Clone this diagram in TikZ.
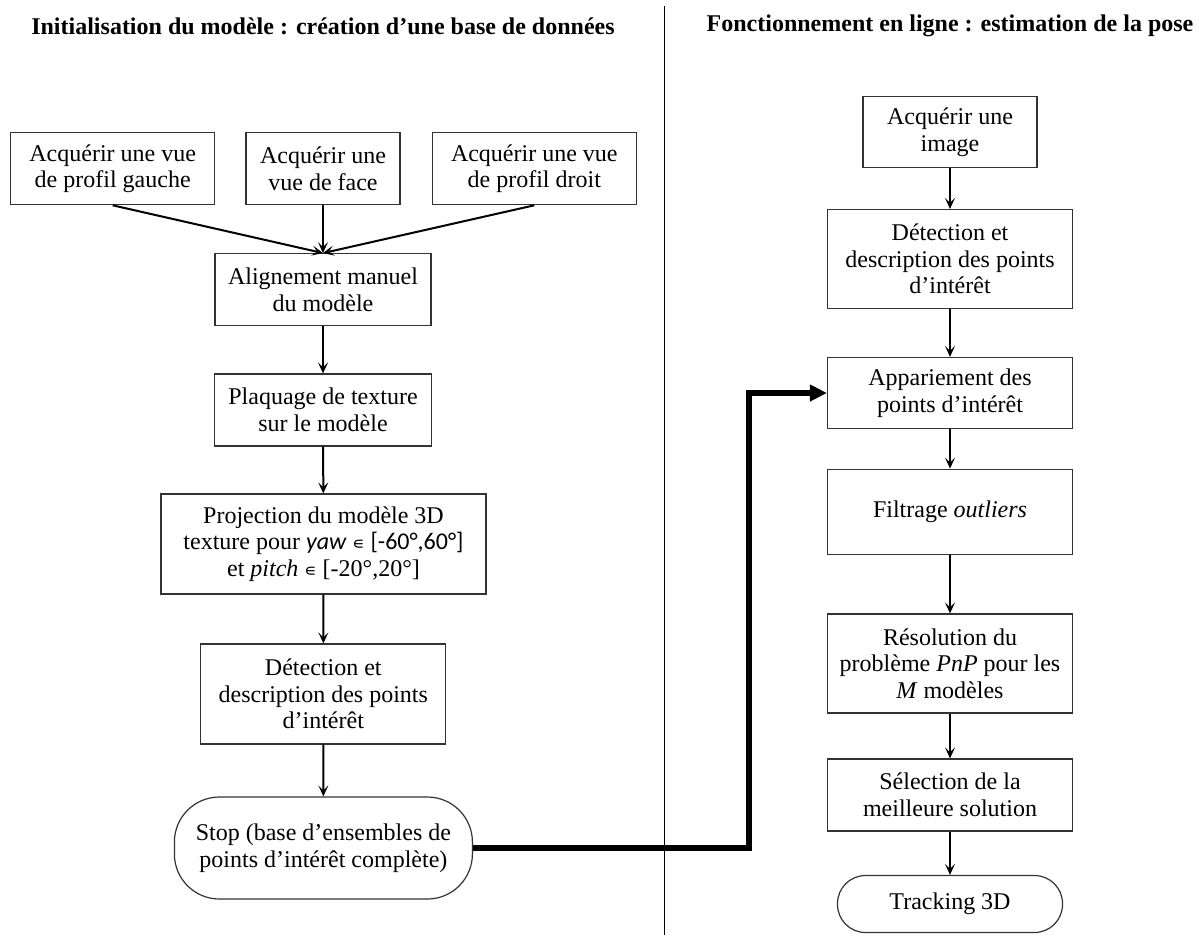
\documentclass[tikz,border=0pt]{standalone}
\usepackage{fontspec}
\setmainfont{Liberation Serif}
\newfontfamily\calib{Carlito}
\newfontfamily\dejavu{DejaVu Sans}
\usetikzlibrary{arrows.meta}
% petit signe d'appartenance
\newcommand{\elt}{{\dejavu\fontsize{17}{17}\selectfont ∊}}

\begin{document}
\begin{tikzpicture}[x=1pt,y=-1pt]

\tikzstyle{b} = [draw=black!80, line width=1.2pt, shape=rectangle, align=center, minimum height=72pt, inner sep=0pt, font=\fontsize{24}{26.7}\selectfont]
\tikzstyle{t} = [b, rounded corners=45pt]
\tikzstyle{ar} = [line width=2pt, -{Stealth[length=11pt,width=10pt,inset=5pt]}]
\tikzstyle{h} = [font=\fontsize{24}{27}\selectfont\bfseries]

\useasboundingbox (0,0) rectangle (1199,935);

% titres et separation
\node[h] (h1) at (323,26) {Initialisation du modèle : création d’une base de données};
\node[h] (h2) at (950,26) {Fonctionnement en ligne : estimation de la pose};
\coordinate (s1) at (664,6);
\coordinate (s2) at (664,935);
\draw[line width=1pt] (s1) -- (s2);

% initialisation
\node[b, minimum width=204pt] (g) at (112.7,168.7) {Acquérir une vue\\de profil gauche};
\node[b, minimum width=154pt] (f) at (323,168.7) {Acquérir une\\vue de face};
\node[b, minimum width=204pt] (d) at (534.3,168.7) {Acquérir une vue\\de profil droit};
\node[b, minimum width=216pt] (al) at (323,289.7) {Alignement manuel\\du modèle};
\node[b, minimum width=217pt] (pl) at (323,410) {Plaquage de texture\\sur le modèle};
\node[b, minimum width=325pt, minimum height=100pt] (pr) at (323.5,544) {Projection du modèle 3D\\texture pour {\calib\itshape yaw} \elt{} {\calib [-60°,60°]}\\et \textit{pitch} \elt{} [-20°,20°]};
\node[b, minimum width=245pt, minimum height=100pt] (dg) at (323.3,694) {Détection et\\description des points\\d’intérêt};
\node[t, minimum width=298pt, minimum height=102pt] (stop) at (323.4,848) {Stop (base d’ensembles de\\points d’intérêt complète)};

\draw[ar] (g.south) -- (al.north);
\draw[ar] (f.south) -- (al.north);
\draw[ar] (d.south) -- (al.north);
\draw[ar] (al) -- (pl);
\draw[ar] (pl) -- (pr);
\draw[ar] (pr) -- (dg);
\draw[ar] (dg) -- (stop);

% en ligne
\node[b, minimum width=174pt, minimum height=71pt] (img) at (950,132) {Acquérir une\\image};
\node[b, minimum width=245pt, minimum height=99pt] (dd) at (950,259) {Détection et\\description des points\\d’intérêt};
\node[b, minimum width=245pt, minimum height=71pt] (app) at (950,393) {Appariement des\\points d’intérêt};
\node[b, minimum width=245pt, minimum height=85pt] (fil) at (950,511.7) {Filtrage \textit{outliers}};
\node[b, minimum width=245pt, minimum height=99pt] (res) at (950,663.5) {Résolution du\\problème \textit{PnP} pour les\\\textit{M} modèles};
\node[b, minimum width=245pt] (sel) at (950,795) {Sélection de la\\meilleure solution};
\node[t, rounded corners=28pt, minimum width=225pt, minimum height=57pt] (tr) at (950,904) {Tracking 3D};

\draw[ar] (img) -- (dd);
\draw[ar] (dd) -- (app);
\draw[ar] (app) -- (fil);
\draw[ar] (fil) -- (res);
\draw[ar] (res) -- (sel);
\draw[ar] (sel) -- (tr);

% renvoi de la base vers l'appariement
\coordinate (k) at (749,393);
\draw[line width=6pt, -{Triangle[length=17pt,width=16pt]}] (stop.east) -- (stop.east -| k) |- (app.west);

\end{tikzpicture}
\end{document}
